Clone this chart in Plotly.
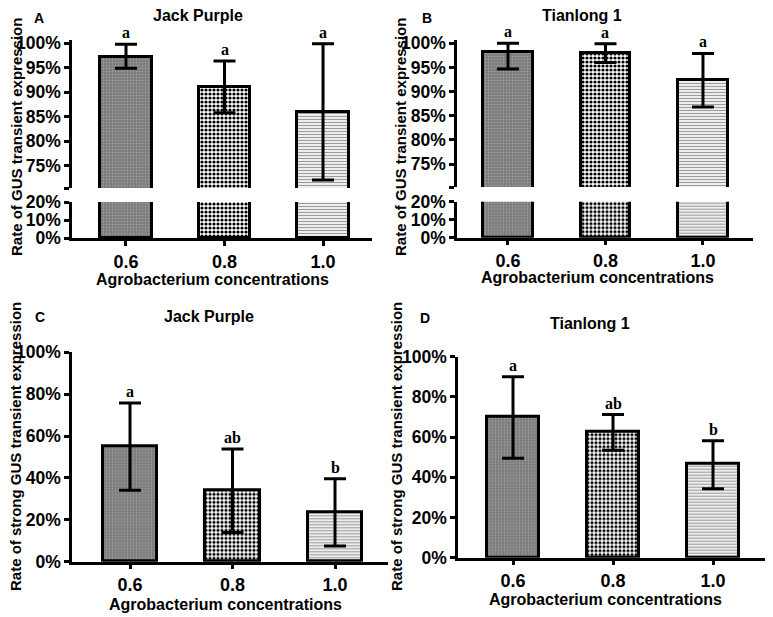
import plotly.graph_objects as go

W, H = 773, 617
OX, OY = 8, 8  # page offset of the plot div (default body margin)

concentrations = ["0.6", "0.8", "1.0"]

# Panel A - Jack Purple, rate of GUS transient expression (%)
a_mean = [97.3, 91.1, 86.0]
a_err_up = [2.5, 5.3, 13.9]
a_err_dn = [2.4, 5.3, 13.9]
a_letters = ["a", "a", "a"]

# Panel B - Tianlong 1, rate of GUS transient expression (%)
b_mean = [98.1, 98.0, 92.4]
b_err_up = [1.9, 1.9, 5.5]
b_err_dn = [3.4, 2.0, 5.6]
b_letters = ["a", "a", "a"]

# Panel C - Jack Purple, rate of strong GUS transient expression (%)
c_mean = [54.9, 33.9, 23.7]
c_err_up = [20.9, 19.9, 15.9]
c_err_dn = [20.8, 19.9, 16.2]
c_letters = ["a", "ab", "b"]

# Panel D - Tianlong 1, rate of strong GUS transient expression (%)
d_mean = [70.0, 62.5, 46.6]
d_err_up = [20.0, 8.7, 11.6]
d_err_dn = [20.5, 9.1, 12.3]
d_letters = ["a", "ab", "b"]

upper_ticks = [75, 80, 85, 90, 95, 100]
lower_ticks = [0, 10, 20]
full_ticks = [0, 20, 40, 60, 80, 100]

SANS = "Liberation Sans"
SERIF = "Liberation Serif"

# per-concentration bar fill styles
bar_bg = ["#7a7a7a", "#ffffff", "#ffffff"]
pat_shape = [".", ".", "-"]
pat_fg = ["#9e9e9e", "#000000", "#9c9c9c"]
pat_size = [3, 4, 3]
pat_solid = [0.3, 0.5, 0.45]


def fx(px):
    return (px - OX) / W


def fy(py):
    return 1 - (py - OY) / H


fig = go.Figure()


def add_bars(means, xa, ya, width, ups=None, dns=None):
    for i, c in enumerate(concentrations):
        tr = go.Bar(
            x=[c], y=[means[i]], xaxis=xa, yaxis=ya, width=width,
            marker=dict(color=bar_bg[i],
                        pattern=dict(shape=pat_shape[i], fgcolor=pat_fg[i],
                                     bgcolor=bar_bg[i], size=pat_size[i],
                                     solidity=pat_solid[i], fillmode="overlay",
                                     fgopacity=1),
                        line=dict(color="black", width=3)),
            showlegend=False, hoverinfo="skip",
        )
        if ups is not None:
            tr.error_y = dict(type="data", symmetric=False, array=[ups[i]],
                              arrayminus=[dns[i]], color="black", thickness=3, width=11)
        fig.add_trace(tr)


add_bars(a_mean, "x", "y", 0.52)
add_bars(a_mean, "x2", "y2", 0.52, a_err_up, a_err_dn)
add_bars(b_mean, "x3", "y3", 0.51)
add_bars(b_mean, "x4", "y4", 0.51, b_err_up, b_err_dn)
add_bars(c_mean, "x5", "y5", 0.53, c_err_up, c_err_dn)
add_bars(d_mean, "x6", "y6", 0.52, d_err_up, d_err_dn)

tickfont = dict(family=SANS, size=18, color="black", weight="bold")
base_axis = dict(showline=True, linecolor="black", linewidth=2.5, ticks="outside",
                 ticklen=5, tickwidth=2.5, tickcolor="black", tickfont=tickfont,
                 showgrid=False, zeroline=False, fixedrange=True, automargin=False)


def xaxis(pxl, pxr, rng, anchor, visible=True):
    d = dict(base_axis, domain=[fx(pxl), fx(pxr)], range=rng, anchor=anchor,
             type="category", categoryorder="array", categoryarray=concentrations,
             ticklabelstandoff=0)
    if not visible:
        d.update(visible=False)
    return d


def yaxis(pyb, pyt, rng, anchor, tickvals, ticktext=None):
    d = dict(base_axis, domain=[fy(pyb), fy(pyt)], range=rng, anchor=anchor,
             tickvals=tickvals, tickfont=dict(tickfont, size=17.5))
    if ticktext is None:
        ticktext = [f"{v}%" for v in tickvals]
    d["ticktext"] = ticktext
    return d


a_rng_up = [70.45, 100.67]
b_rng_up = [70.24, 100.68]
up_text = [""] + [f"{v}%" for v in upper_ticks]

fig.update_layout(
    template="none",
    xaxis=xaxis(72, 372, [-0.548, 2.497], "y"),
    yaxis=yaxis(238.3, 202, [0, 20], "x", lower_ticks),
    xaxis2=xaxis(72, 372, [-0.548, 2.497], "y2", visible=False),
    yaxis2=yaxis(188, 40, a_rng_up, "x2", [a_rng_up[0]] + upper_ticks, up_text),
    xaxis3=xaxis(457, 753, [-0.523, 2.513], "y3"),
    yaxis3=yaxis(237.7, 201.7, [0, 20], "x3", lower_ticks),
    xaxis4=xaxis(457, 753, [-0.523, 2.513], "y4", visible=False),
    yaxis4=yaxis(187, 40, b_rng_up, "x4", [b_rng_up[0]] + upper_ticks, up_text),
    xaxis5=xaxis(72, 388, [-0.566, 2.517], "y5"),
    yaxis5=yaxis(561.7, 352.3, [0, 100], "x5", full_ticks),
    xaxis6=xaxis(458, 768, [-0.55, 2.55], "y6"),
    yaxis6=yaxis(557.7, 356.7, [0, 100], "x6", full_ticks),
    width=W, height=H, margin=dict(l=0, r=0, t=0, b=0, pad=0),
    paper_bgcolor="white", plot_bgcolor="rgba(0,0,0,0)",
    bargap=0,
)

ann = []


def paper_text(text, px, py, size, angle=0, family=SANS):
    ann.append(dict(text=text, x=fx(px), y=fy(py), xref="paper", yref="paper",
                    xanchor="center", yanchor="middle", showarrow=False,
                    textangle=angle,
                    font=dict(family=family, size=size, color="black", weight="bold")))


# panel letters and titles
paper_text("A", 39, 18, 14)
paper_text("Jack Purple", 198, 15, 16)
paper_text("B", 427, 18, 14)
paper_text("Tianlong 1", 582, 15, 16)
paper_text("C", 40, 317, 14)
paper_text("Jack Purple", 209, 316, 16)
paper_text("D", 425, 318, 14)
paper_text("Tianlong 1", 590, 323, 16)

# axis titles
paper_text("Rate of GUS transient expression", 16, 137, 15, -90)
paper_text("Rate of GUS transient expression", 400, 137, 15, -90)
paper_text("Rate of strong GUS transient expression", 16, 447, 15, -90)
paper_text("Rate of strong GUS transient expression", 397, 447, 15, -90)
paper_text("Agrobacterium concentrations", 213, 279, 16)
paper_text("Agrobacterium concentrations", 597, 277, 16)
paper_text("Agrobacterium concentrations", 225, 604, 16)
paper_text("Agrobacterium concentrations", 605, 599, 16)

# significance letters (x given as category index on the category axis)
for means, ups, letters, xr, yr in [
    (a_mean, a_err_up, a_letters, "x2", "y2"),
    (b_mean, b_err_up, b_letters, "x4", "y4"),
    (c_mean, c_err_up, c_letters, "x5", "y5"),
    (d_mean, d_err_up, d_letters, "x6", "y6"),
]:
    for i, (m, u, L) in enumerate(zip(means, ups, letters)):
        ann.append(dict(text=L, x=i, y=m + u, xref=xr, yref=yr,
                        xanchor="center", yanchor="bottom", yshift=1, showarrow=False,
                        font=dict(family=SERIF, size=16, color="black", weight="bold")))

fig.update_layout(annotations=ann)

fig.write_html("out.html")
